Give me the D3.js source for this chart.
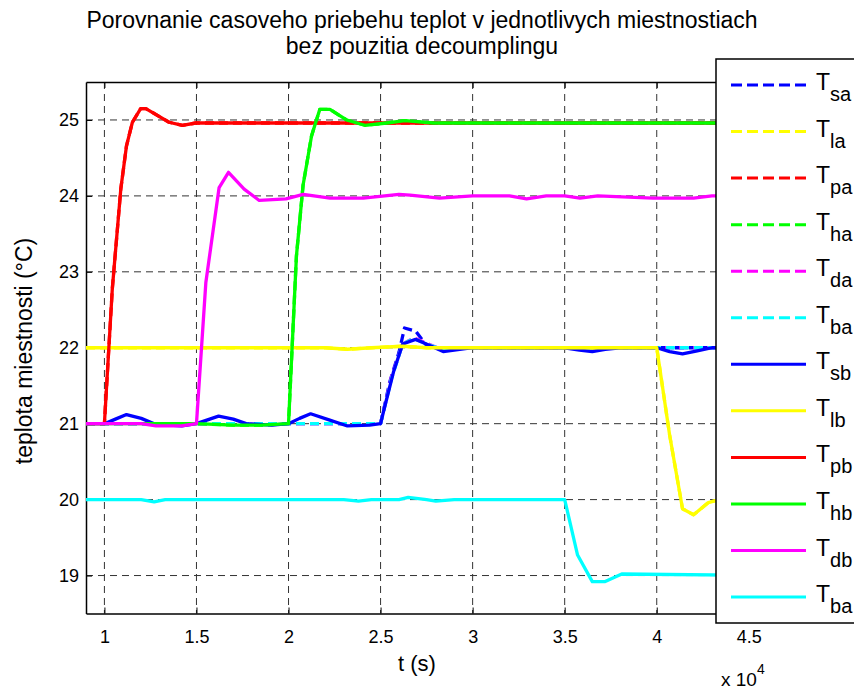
<!DOCTYPE html>
<html><head><meta charset="utf-8">
<script src="https://cdn.jsdelivr.net/npm/d3@7"></script>
<style>body{margin:0;background:#fff}svg{display:block}text{font-family:"Liberation Sans",Arial,sans-serif;fill:#000}</style>
</head><body><svg id="c" width="854" height="692"></svg>
<script>
// ---- data (t in units of 10^4 s, temperature in °C) ----
const titleLines = ["Porovnanie casoveho priebehu teplot v jednotlivych miestnostiach", "bez pouzitia decoumplingu"];
const xTicks = [1, 1.5, 2, 2.5, 3, 3.5, 4, 4.5];
const xTickLabels = ["1", "1.5", "2", "2.5", "3", "3.5", "4", "4.5"];
const yTicks = [19, 20, 21, 22, 23, 24, 25];
const yTickLabels = ["19", "20", "21", "22", "23", "24", "25"];

const t_sb = [0.9, 1.0, 1.06, 1.12, 1.2, 1.28, 1.42, 1.5, 1.56, 1.62, 1.7, 1.77, 1.91, 2.0, 2.06, 2.12, 2.22, 2.32, 2.44, 2.5, 2.52, 2.57, 2.62, 2.69, 2.73, 2.84, 2.99, 3.5, 3.58, 3.65, 3.72, 3.8, 4.0, 4.07, 4.14, 4.22, 4.3, 4.6];
const v_sb = [21.0, 21.0, 21.06, 21.12, 21.07, 20.99, 20.97, 21.0, 21.05, 21.1, 21.06, 21.0, 20.98, 21.0, 21.07, 21.13, 21.05, 20.97, 20.98, 21.0, 21.2, 21.68, 22.05, 22.11, 22.07, 21.95, 22.0, 22.0, 21.97, 21.95, 21.98, 22.0, 22.0, 21.95, 21.92, 21.96, 22.0, 22.0];

const t_sa = [0.9, 2.5, 2.55, 2.6, 2.63, 2.69, 2.75, 2.84, 2.95, 4.6];
const v_sa = [21.0, 21.0, 21.55, 21.94, 22.26, 22.22, 22.03, 21.97, 22.0, 22.0];

const t_lb = [0.9, 2.2, 2.32, 2.45, 2.62, 2.75, 4.0, 4.07, 4.14, 4.2, 4.28, 4.34, 4.6];
const v_lb = [22.0, 22.0, 21.98, 22.0, 22.02, 22.0, 22.0, 20.85, 19.88, 19.8, 19.96, 20.0, 20.0];

const t_pb = [0.9, 1.0, 1.043, 1.089, 1.12, 1.152, 1.197, 1.225, 1.351, 1.424, 1.496, 4.6];
const v_pb = [21.0, 21.0, 22.78, 24.09, 24.66, 24.97, 25.15, 25.15, 24.97, 24.93, 24.96, 24.96];

const t_hb = [0.9, 1.5, 1.7, 1.85, 2.0, 2.043, 2.079, 2.125, 2.17, 2.225, 2.315, 2.415, 2.533, 2.632, 2.786, 4.6];
const v_hb = [21.0, 21.0, 20.98, 20.98, 21.0, 23.21, 24.14, 24.79, 25.14, 25.14, 25.0, 24.93, 24.96, 24.99, 24.96, 24.96];

const t_db = [0.9, 1.2, 1.28, 1.42, 1.5, 1.551, 1.623, 1.674, 1.759, 1.841, 1.986, 2.08, 2.225, 2.406, 2.6, 2.66, 2.82, 3.0, 3.2, 3.293, 3.4, 3.5, 3.583, 3.68, 3.98, 4.09, 4.2, 4.3, 4.6];
const v_db = [21.0, 21.0, 20.97, 20.97, 21.0, 22.86, 24.11, 24.31, 24.09, 23.94, 23.96, 24.02, 23.97, 23.97, 24.02, 24.01, 23.97, 24.0, 24.0, 23.96, 24.0, 24.0, 23.97, 24.0, 23.97, 23.97, 23.97, 24.0, 24.0];
const t_da = [0.9, 2.5, 2.56, 2.62, 2.68, 2.74, 2.84, 2.95, 4.6];
const v_da = [21.0, 21.0, 21.62, 22.05, 22.13, 22.07, 21.97, 22.0, 22.0];

const t_bb = [0.9, 1.2, 1.27, 1.33, 2.3, 2.38, 2.45, 2.6, 2.65, 2.75, 2.8, 2.9, 3.5, 3.57, 3.65, 3.72, 3.81, 4.6];
const v_bb = [20.0, 20.0, 19.97, 20.0, 20.0, 19.98, 20.0, 20.0, 20.03, 20.0, 19.98, 20.0, 20.0, 19.27, 18.92, 18.92, 19.02, 19.0];
const t_ba = [0.9, 2.5, 2.56, 2.62, 2.68, 2.74, 2.84, 2.95, 4.6];
const v_ba = [21.0, 21.0, 21.6, 22.05, 22.12, 22.06, 21.97, 22.0, 22.0];

// dashed series that coincide with their solid counterparts
const t_la = t_lb, v_la = v_lb, t_pa = t_pb, v_pa = v_pb, t_ha = t_hb, v_ha = v_hb;

const seriesNames = ["sa", "la", "pa", "ha", "da", "ba", "sb", "lb", "pb", "hb", "db", "ba"];
const seriesColors = ["#0000ff", "#ffff00", "#ff0000", "#00ff00", "#ff00ff", "#00ffff", "#0000ff", "#ffff00", "#ff0000", "#00ff00", "#ff00ff", "#00ffff"];
const seriesDashed = [true, true, true, true, true, true, false, false, false, false, false, false];
const seriesT = [t_sa, t_la, t_pa, t_ha, t_da, t_ba, t_sb, t_lb, t_pb, t_hb, t_db, t_bb];
const seriesV = [v_sa, v_la, v_pa, v_ha, v_da, v_ba, v_sb, v_lb, v_pb, v_hb, v_db, v_bb];

// ---- layout ----
const L = 86, R = 758, T = 82, B = 613.5;
const x = d3.scaleLinear().domain([0.9, 4.55]).range([L, R]);
const y = d3.scaleLinear().domain([18.5, 25.5]).range([B, T]);
const svg = d3.select("#c");

svg.append("defs").append("clipPath").attr("id", "clip")
  .append("rect").attr("x", L).attr("y", T).attr("width", R - L).attr("height", B - T);

// grid
const grid = svg.append("g");
grid.selectAll(".gx").data(xTicks).join("line")
  .attr("x1", d => x(d)).attr("x2", d => x(d)).attr("y1", T).attr("y2", B)
  .attr("stroke", "#333").attr("stroke-width", 1).attr("stroke-dasharray", "7,5");
grid.selectAll(".gy").data(yTicks).join("line")
  .attr("x1", L).attr("x2", R).attr("y1", d => y(d)).attr("y2", d => y(d))
  .attr("stroke", "#333").attr("stroke-width", 1).attr("stroke-dasharray", "7,5");

// axes
const xa = svg.append("g").attr("transform", `translate(0,${B})`)
  .call(d3.axisBottom(x).tickValues(xTicks).tickFormat((d, i) => xTickLabels[i]).tickSizeInner(-6).tickSizeOuter(0).tickPadding(17));
const xt = svg.append("g").attr("transform", `translate(0,${T})`)
  .call(d3.axisTop(x).tickValues(xTicks).tickFormat("").tickSizeInner(-6).tickSizeOuter(0));
const ya = svg.append("g").attr("transform", `translate(${L},0)`)
  .call(d3.axisLeft(y).tickValues(yTicks).tickFormat((d, i) => yTickLabels[i]).tickSizeInner(-6).tickSizeOuter(0).tickPadding(7));
[xa, xt, ya].forEach(g => {
  g.select(".domain").attr("stroke", "#000").attr("stroke-width", 1.5);
  g.selectAll(".tick line").attr("stroke", "#000");
  g.selectAll("text").attr("font-size", 18).attr("font-family", "Liberation Sans, Arial, sans-serif").attr("fill", "#000");
});

// lines
const line = d3.line().x(d => x(d[0])).y(d => y(d[1]));
const plot = svg.append("g").attr("clip-path", "url(#clip)");
seriesNames.forEach((n, i) => {
  const pts = seriesT[i].map((t, k) => [t, seriesV[i][k]]);
  plot.append("path").datum(pts).attr("d", line)
    .attr("fill", "none").attr("stroke", seriesColors[i]).attr("stroke-width", 3.3)
    .attr("stroke-linejoin", "round")
    .attr("stroke-dasharray", seriesDashed[i] ? "9,5" : null);
});

// titles / labels
titleLines.forEach((s, i) => svg.append("text").attr("x", 422).attr("y", 28 + i * 26)
  .attr("text-anchor", "middle").attr("font-size", 23).text(s));
svg.append("text").attr("x", 417).attr("y", 671).attr("text-anchor", "middle").attr("font-size", 22).text("t (s)");
svg.append("text").attr("transform", "translate(32,351) rotate(-90)").attr("text-anchor", "middle")
  .attr("font-size", 23).text("teplota miestnosti (°C)");
const ex = svg.append("text").attr("x", 721).attr("y", 686).attr("font-size", 19);
ex.append("tspan").text("x 10");
ex.append("tspan").attr("font-size", 14).attr("dy", -12).text("4");

// legend
const lg = svg.append("g");
lg.append("rect").attr("x", 716).attr("y", 59).attr("width", 160).attr("height", 564)
  .attr("fill", "#fff").attr("stroke", "#000").attr("stroke-width", 1.5);
seriesNames.forEach((n, i) => {
  const cy = 85 + i * 46.55;
  lg.append("line").attr("x1", 731).attr("x2", 806).attr("y1", cy).attr("y2", cy)
    .attr("stroke", seriesColors[i]).attr("stroke-width", 3)
    .attr("stroke-dasharray", seriesDashed[i] ? "11,5" : null);
  const tx = lg.append("text").attr("x", 816).attr("y", cy + 5).attr("font-size", 23);
  tx.append("tspan").text("T");
  tx.append("tspan").attr("dy", 11).attr("font-size", 20).text(n);
});
</script></body></html>
